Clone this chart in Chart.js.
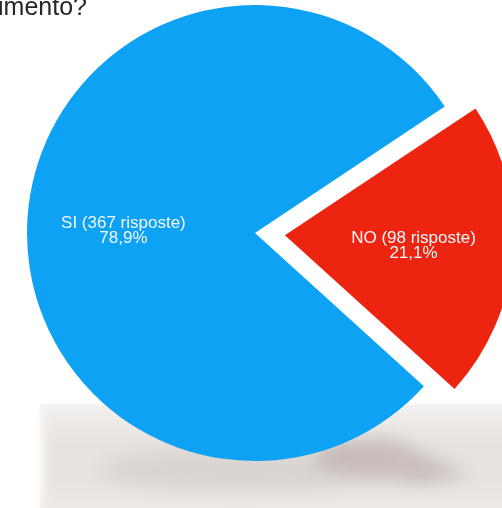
<!DOCTYPE html>
<html>
<head>
<meta charset="utf-8">
<script src="https://cdn.jsdelivr.net/npm/chart.js@4.4.0/dist/chart.umd.min.js"></script>
<style>
  html, body { margin: 0; padding: 0; background: #fff; }
  #wrap { width: 502px; height: 508px; }
</style>
</head>
<body>
<div id="wrap"><canvas id="torta" width="502" height="508"></canvas></div>
<script>
// risposte alla domanda (SI / NO)
const categorie = ['SI', 'NO'];
const risposte = [367, 98];
const colori = ['#0ea2f5', '#ec2410'];
const staccoFetta = [0, 120];
const titolo = 'imento?';
// piccolo spostamento delle etichette (px)
const spostaEtichette = [[-2, 7], [-1, 1]];

const FONT = '"Liberation Sans", Arial, Helvetica, sans-serif';

// sfondo: bianco con il "pavimento" grigio e l'ombra sotto la torta
const sfondo = {
  id: 'sfondo',
  beforeDraw(chart) {
    const ctx = chart.ctx;
    const w = chart.width, h = chart.height;
    ctx.save();
    ctx.fillStyle = '#ffffff';
    ctx.fillRect(0, 0, w, h);

    ctx.filter = 'blur(4px)';
    ctx.fillStyle = '#e7e3e0';
    ctx.fillRect(44, 408, w + 20, h);
    ctx.filter = 'none';

    let g = ctx.createLinearGradient(0, 405, 0, 445);
    g.addColorStop(0, 'rgba(243,241,239,0.9)');
    g.addColorStop(1, 'rgba(243,241,239,0)');
    ctx.fillStyle = g;
    ctx.fillRect(40, 405, w, 40);

    g = ctx.createLinearGradient(0, 480, 0, h);
    g.addColorStop(0, 'rgba(240,236,234,0)');
    g.addColorStop(1, 'rgba(240,236,234,0.8)');
    ctx.fillStyle = g;
    ctx.fillRect(40, 480, w, 30);

    // ombra obliqua verso destra
    ctx.filter = 'blur(9px)';
    ctx.fillStyle = 'rgba(150,130,125,0.38)';
    ctx.beginPath();
    ctx.moveTo(330, 442);
    ctx.lineTo(390, 438);
    ctx.lineTo(470, 476);
    ctx.lineTo(420, 484);
    ctx.lineTo(310, 466);
    ctx.closePath();
    ctx.fill();
    ctx.fillStyle = 'rgba(175,160,155,0.2)';
    ctx.beginPath();
    ctx.ellipse(240, 470, 140, 24, 0, 0, Math.PI * 2);
    ctx.fill();
    ctx.filter = 'none';
    ctx.restore();
  }
};

// etichette dentro le fette: nome, risposte e percentuale
const etichette = {
  id: 'etichette',
  afterDatasetsDraw(chart) {
    const ctx = chart.ctx;
    const meta = chart.getDatasetMeta(0);
    const valori = chart.data.datasets[0].data;
    const totale = valori.reduce((a, b) => a + b, 0);
    ctx.save();
    ctx.fillStyle = '#f2f7fa';
    ctx.font = '17px ' + FONT;
    ctx.textAlign = 'center';
    ctx.textBaseline = 'middle';
    meta.data.forEach((arc, i) => {
      const p = arc.getProps(['x', 'y', 'startAngle', 'endAngle', 'outerRadius'], true);
      const mid = (p.startAngle + p.endAngle) / 2;
      const r = (arc.options.offset || 0) / 4 + p.outerRadius * 0.57;
      const lx = p.x + Math.cos(mid) * r + spostaEtichette[i][0];
      const ly = p.y + Math.sin(mid) * r + spostaEtichette[i][1];
      const perc = (valori[i] / totale * 100).toFixed(1).replace('.', ',') + '%';
      ctx.fillText(categorie[i] + ' (' + valori[i] + ' risposte)', lx, ly - 7.5);
      ctx.fillText(perc, lx, ly + 7.5);
    });
    ctx.restore();
  }
};

// domanda in alto a sinistra (tagliata dal bordo)
const domanda = {
  id: 'domanda',
  afterDraw(chart) {
    const ctx = chart.ctx;
    ctx.save();
    ctx.fillStyle = '#262626';
    ctx.font = '25px ' + FONT;
    ctx.textAlign = 'left';
    ctx.textBaseline = 'alphabetic';
    ctx.fillText(titolo, -2, 15);
    ctx.restore();
  }
};

const ctx = document.getElementById('torta').getContext('2d');
const chart = new Chart(ctx, {
  type: 'pie',
  data: {
    labels: categorie,
    datasets: [{
      data: risposte,
      backgroundColor: colori,
      borderWidth: 0,
      offset: staccoFetta,
      hoverOffset: 0,
      radius: 228,
      clip: false
    }]
  },
  options: {
    responsive: false,
    animation: false,
    rotation: 132.2,
    layout: { padding: { left: 8, right: 0, top: 0, bottom: 42 } },
    plugins: {
      legend: { display: false },
      tooltip: { enabled: false }
    }
  },
  plugins: [sfondo, etichette, domanda]
});
</script>
</body>
</html>
